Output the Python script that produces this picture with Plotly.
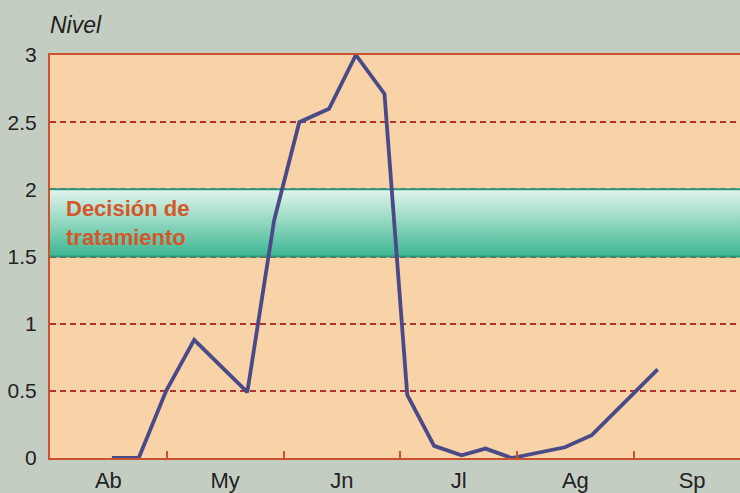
import plotly.graph_objects as go

# --- data (x in months from start of April; 1 unit = 1 month) ---
meses = ["Ab", "My", "Jn", "Jl", "Ag", "Sp"]
pos_meses = [0.5, 1.5, 2.5, 3.5, 4.5, 5.5]
limites_meses = [1, 2, 3, 4, 5]
x_tiempo = [0.53, 0.76, 0.995, 1.235, 1.69, 1.92, 2.135, 2.39, 2.62, 2.865,
            3.06, 3.29, 3.525, 3.73, 3.955, 4.41, 4.64, 5.205]
nivel = [0.0, 0.0, 0.5, 0.88, 0.49, 1.77, 2.5, 2.6, 3.0, 2.71,
         0.47, 0.09, 0.02, 0.07, 0.0, 0.08, 0.17, 0.66]
y_ticks = [0, 0.5, 1, 1.5, 2, 2.5, 3]
y_ticktext = ["0", "0.5", "1", "1.5", "2", "2.5", "3"]
umbral_inf = 1.5
umbral_sup = 2.0
x_max = 5.91

RED = "#c9532e"
GRID = "#b23232"
BAND_LINE = "#2a9a7c"

fig = go.Figure()

# treatment decision band with vertical gradient
fig.add_trace(go.Scatter(
    x=[0, x_max, x_max, 0, 0],
    y=[umbral_inf, umbral_inf, umbral_sup, umbral_sup, umbral_inf],
    mode="lines", line=dict(width=0), fill="toself",
    fillgradient=dict(type="vertical",
                      colorscale=[[0, "#3cb592"], [0.55, "#98dac3"], [1, "#e2f4ed"]]),
    hoverinfo="skip", showlegend=False))
for yv in (umbral_inf, umbral_sup):
    fig.add_trace(go.Scatter(x=[0, x_max], y=[yv, yv], mode="lines",
                             line=dict(color=BAND_LINE, width=2),
                             hoverinfo="skip", showlegend=False))

# data line
fig.add_trace(go.Scatter(x=x_tiempo, y=nivel, mode="lines",
                         line=dict(color="#4a4a88", width=3.8),
                         showlegend=False))

fig.add_annotation(x=0.12, y=(umbral_inf + umbral_sup) / 2, xref="x", yref="y",
                   text="Decisión de<br>tratamiento", showarrow=False,
                   xanchor="left", yanchor="middle", align="left",
                   font=dict(family="Liberation Sans, Arial, sans-serif", size=22,
                             color="#d4562a", weight="bold"))
fig.add_annotation(x=-0.003, y=1.074, xref="paper", yref="paper",
                   text="<i>Nivel</i>", showarrow=False, xanchor="left", yanchor="middle",
                   font=dict(family="Liberation Sans, Arial, sans-serif", size=23,
                             color="#1e1e1e"))

fig.update_layout(
    width=740, height=493,
    margin=dict(l=50, r=0, t=55, b=29),
    paper_bgcolor="#c4cdc1",
    plot_bgcolor="#f7d3a7",
    xaxis=dict(range=[0, x_max], tickvals=pos_meses, ticktext=meses,
               ticks="", showgrid=False, zeroline=False,
               showline=True, linecolor=RED, linewidth=2, mirror=True,
               ticklabelstandoff=2,
               tickfont=dict(family="Liberation Sans Narrow, Arial Narrow, sans-serif",
                             size=22, color="#222222"),
               minor=dict(tickvals=limites_meses, ticks="inside", ticklen=7,
                          tickcolor=RED, tickwidth=1.5, showgrid=False)),
    yaxis=dict(range=[0, 3], tickvals=y_ticks, ticktext=y_ticktext,
               ticks="", showgrid=True, gridcolor=GRID, gridwidth=1.5,
               griddash="6px,4px", zeroline=False,
               showline=True, linecolor=RED, linewidth=2,
               ticklabelstandoff=7,
               tickfont=dict(family="Liberation Sans, Arial, sans-serif",
                             size=21, color="#222222")),
)

fig.write_html("out.html",
               config={"displayModeBar": False},
               post_script="document.body.style.margin='0';"
                           "document.body.style.overflow='hidden';")
